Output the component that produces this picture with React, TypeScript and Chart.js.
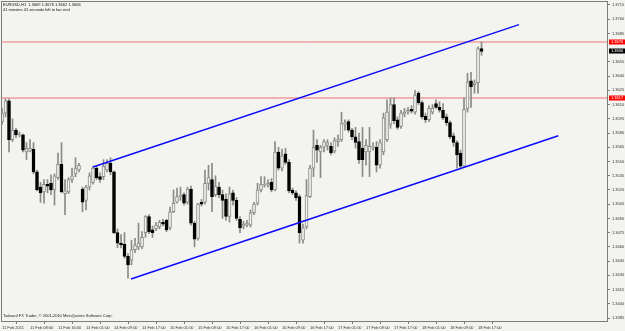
import { useEffect, useRef } from 'react';
import { Chart, registerables } from 'chart.js';

Chart.register(...registerables);

const OPEN = [
  1.3592, 1.3601, 1.3614, 1.3573, 1.3583, 1.3578, 1.3578, 1.3560, 1.3561, 1.3563,
  1.3539, 1.3523, 1.3518, 1.3526, 1.3527, 1.3520, 1.3533, 1.3547, 1.3516, 1.3518,
  1.3531, 1.3537, 1.3541, 1.3521, 1.3509, 1.3523, 1.3528, 1.3543, 1.3534, 1.3534,
  1.3541, 1.3548, 1.3539, 1.3475, 1.3464, 1.3463, 1.3450, 1.3446, 1.3457, 1.3460,
  1.3460, 1.3475, 1.3492, 1.3478, 1.3479, 1.3481, 1.3486, 1.3488, 1.3480, 1.3497,
  1.3507, 1.3513, 1.3515, 1.3507, 1.3521, 1.3485, 1.3469, 1.3507, 1.3507, 1.3527,
  1.3531, 1.3515, 1.3523, 1.3515, 1.3510, 1.3492, 1.3517, 1.3509, 1.3489, 1.3482,
  1.3483, 1.3483, 1.3496, 1.3506, 1.3520, 1.3525, 1.3525, 1.3528, 1.3520, 1.3560,
  1.3543, 1.3558, 1.3549, 1.3520, 1.3517, 1.3513, 1.3467, 1.3481, 1.3513, 1.3543,
  1.3567, 1.3560, 1.3565, 1.3567, 1.3566, 1.3561, 1.3571, 1.3573, 1.3589, 1.3592,
  1.3583, 1.3576, 1.3571, 1.3564, 1.3560, 1.3560, 1.3565, 1.3565, 1.3546, 1.3560,
  1.3573, 1.3589, 1.3610, 1.3594, 1.3587, 1.3600, 1.3602, 1.3605, 1.3602, 1.3622,
  1.3612, 1.3598, 1.3594, 1.3602, 1.3611, 1.3607, 1.3604, 1.3597, 1.3591, 1.3577,
  1.3570, 1.3559, 1.3545, 1.3606, 1.3635, 1.3631, 1.3633, 1.3669,
];
const HIGH = [
  1.3606, 1.3616, 1.3616, 1.3595, 1.3585, 1.3581, 1.3579, 1.3570, 1.3573, 1.3570,
  1.3541, 1.3528, 1.3531, 1.3531, 1.3536, 1.3537, 1.3559, 1.3570, 1.3531, 1.3533,
  1.3543, 1.3554, 1.3548, 1.3523, 1.3525, 1.3538, 1.3545, 1.3545, 1.3538, 1.3552,
  1.3552, 1.3554, 1.3540, 1.3479, 1.3473, 1.3475, 1.3453, 1.3467, 1.3469, 1.3485,
  1.3476, 1.3493, 1.3494, 1.3482, 1.3486, 1.3488, 1.3489, 1.3489, 1.3502, 1.3520,
  1.3522, 1.3523, 1.3517, 1.3523, 1.3524, 1.3487, 1.3506, 1.3510, 1.3541, 1.3546,
  1.3548, 1.3535, 1.3528, 1.3520, 1.3516, 1.3523, 1.3520, 1.3512, 1.3492, 1.3487,
  1.3488, 1.3499, 1.3507, 1.3527, 1.3534, 1.3534, 1.3531, 1.3532, 1.3571, 1.3565,
  1.3563, 1.3564, 1.3552, 1.3522, 1.3519, 1.3515, 1.3484, 1.3531, 1.3546, 1.3583,
  1.3573, 1.3567, 1.3573, 1.3573, 1.3570, 1.3575, 1.3578, 1.3602, 1.3594, 1.3594,
  1.3585, 1.3586, 1.3580, 1.3586, 1.3573, 1.3586, 1.3570, 1.3571, 1.3573, 1.3601,
  1.3615, 1.3617, 1.3617, 1.3597, 1.3604, 1.3606, 1.3607, 1.3609, 1.3625, 1.3624,
  1.3614, 1.3601, 1.3609, 1.3610, 1.3615, 1.3613, 1.3611, 1.3600, 1.3593, 1.3580,
  1.3572, 1.3562, 1.3617, 1.3643, 1.3644, 1.3636, 1.3671, 1.3676,
];
const LOW = [
  1.3589, 1.3597, 1.3560, 1.3571, 1.3575, 1.3576, 1.3560, 1.3552, 1.3560, 1.3537,
  1.3519, 1.3507, 1.3506, 1.3517, 1.3515, 1.3504, 1.3531, 1.3517, 1.3494, 1.3516,
  1.3528, 1.3534, 1.3539, 1.3497, 1.3499, 1.3520, 1.3526, 1.3531, 1.3528, 1.3531,
  1.3539, 1.3536, 1.3474, 1.3459, 1.3459, 1.3448, 1.3427, 1.3441, 1.3454, 1.3457,
  1.3458, 1.3470, 1.3474, 1.3470, 1.3477, 1.3479, 1.3482, 1.3476, 1.3478, 1.3496,
  1.3506, 1.3509, 1.3504, 1.3505, 1.3483, 1.3460, 1.3467, 1.3503, 1.3505, 1.3520,
  1.3497, 1.3513, 1.3512, 1.3490, 1.3488, 1.3486, 1.3504, 1.3488, 1.3475, 1.3479,
  1.3481, 1.3481, 1.3494, 1.3504, 1.3518, 1.3523, 1.3523, 1.3518, 1.3519, 1.3541,
  1.3540, 1.3547, 1.3517, 1.3515, 1.3509, 1.3464, 1.3464, 1.3479, 1.3512, 1.3534,
  1.3549, 1.3533, 1.3560, 1.3562, 1.3557, 1.3559, 1.3566, 1.3571, 1.3583, 1.3581,
  1.3573, 1.3564, 1.3548, 1.3534, 1.3546, 1.3534, 1.3562, 1.3539, 1.3543, 1.3557,
  1.3571, 1.3585, 1.3590, 1.3584, 1.3585, 1.3597, 1.3600, 1.3601, 1.3600, 1.3610,
  1.3595, 1.3591, 1.3592, 1.3600, 1.3606, 1.3602, 1.3594, 1.3588, 1.3574, 1.3566,
  1.3543, 1.3543, 1.3544, 1.3602, 1.3607, 1.3622, 1.3622, 1.3662,
];
const CLOSE = [
  1.3601, 1.3614, 1.3573, 1.3583, 1.3578, 1.3579, 1.3562, 1.3564, 1.3564, 1.3539,
  1.3520, 1.3517, 1.3526, 1.3524, 1.3520, 1.3535, 1.3547, 1.3518, 1.3519, 1.3531,
  1.3535, 1.3543, 1.3546, 1.3507, 1.3523, 1.3535, 1.3543, 1.3533, 1.3531, 1.3545,
  1.3548, 1.3539, 1.3475, 1.3464, 1.3462, 1.3450, 1.3441, 1.3457, 1.3462, 1.3464,
  1.3470, 1.3492, 1.3476, 1.3475, 1.3483, 1.3486, 1.3484, 1.3478, 1.3497, 1.3506,
  1.3513, 1.3514, 1.3506, 1.3521, 1.3485, 1.3468, 1.3505, 1.3505, 1.3527, 1.3533,
  1.3513, 1.3524, 1.3515, 1.3509, 1.3492, 1.3516, 1.3509, 1.3490, 1.3480, 1.3484,
  1.3485, 1.3496, 1.3505, 1.3520, 1.3526, 1.3526, 1.3527, 1.3520, 1.3560, 1.3543,
  1.3556, 1.3549, 1.3519, 1.3517, 1.3512, 1.3475, 1.3480, 1.3514, 1.3543, 1.3565,
  1.3562, 1.3565, 1.3571, 1.3570, 1.3559, 1.3572, 1.3573, 1.3590, 1.3591, 1.3583,
  1.3576, 1.3570, 1.3552, 1.3552, 1.3567, 1.3566, 1.3566, 1.3546, 1.3570, 1.3596,
  1.3602, 1.3610, 1.3593, 1.3586, 1.3601, 1.3602, 1.3604, 1.3603, 1.3620, 1.3612,
  1.3597, 1.3594, 1.3606, 1.3606, 1.3607, 1.3604, 1.3596, 1.3591, 1.3576, 1.3570,
  1.3557, 1.3545, 1.3605, 1.3634, 1.3629, 1.3633, 1.3669, 1.3666,
];

const X_TICK_BARS = [0, 8, 16, 24, 32, 40, 48, 56, 64, 72, 80, 88, 96, 104, 112, 120, 128, 136];
const X_LABELS = [
  '11 Feb 2011', '11 Feb 08:00', '11 Feb 16:00', '14 Feb 01:00', '14 Feb 09:00', '14 Feb 17:00',
  '15 Feb 01:00', '15 Feb 09:00', '15 Feb 17:00', '16 Feb 01:00', '16 Feb 09:00', '16 Feb 17:00',
  '17 Feb 01:00', '17 Feb 09:00', '17 Feb 17:00', '18 Feb 01:00', '18 Feb 09:00', '18 Feb 17:00',
];
const Y_TICKS = [
  1.3715, 1.37, 1.3685, 1.3655, 1.364, 1.3625, 1.361, 1.3595, 1.358, 1.3565, 1.355,
  1.3535, 1.352, 1.3505, 1.349, 1.3475, 1.346, 1.3445, 1.343, 1.3415, 1.34, 1.3385,
];

const UPPER_CHANNEL = [{ x: 26.0, y: 1.35442 }, { x: 147.7, y: 1.36943 }];
const LOWER_CHANNEL = [{ x: 36.86, y: 1.34261 }, { x: 158.94, y: 1.35772 }];
const ASK_LEVEL = 1.3676;
const SUPPORT_LEVEL = 1.3617;
const PRICE_TAGS = [
  { value: 1.3676, text: '1.3676', bg: '#ff0000' },
  { value: 1.3666, text: '1.3666', bg: '#000000' },
  { value: 1.3617, text: '1.3617', bg: '#ff0000' },
];
const HEADER_LINES = [
  'EURUSD,H1  1.3669 1.3676 1.3662 1.3666',
  '41 minutes 41 seconds left to bar end',
];
const FOOTER = 'Tadawul FX Trader, \u00a9 2001-2010 MetaQuotes Software Corp.';

const X_MIN = -0.286;
const X_MAX = 173.14;
const Y_MIN = 1.33808;
const Y_MAX = 1.37192;

const BG = '#f3f3ef';
const WICK = '#8a8a8a';
const FONT = 'Liberation Sans, Arial, sans-serif';

export default function App() {
  const ref = useRef<HTMLCanvasElement | null>(null);

  useEffect(() => {
    if (!ref.current) return;
    const bull = OPEN.map((o, i) => CLOSE[i] >= o);
    const bodies = OPEN.map((o, i) => ({ x: i, y: [o, CLOSE[i]] }));
    const wicks = OPEN.map((_, i) => ({ x: i, y: [LOW[i], HIGH[i]] }));

    const overlay = {
      id: 'overlay',
      beforeDraw(chart: any) {
        const ctx = chart.ctx;
        ctx.save();
        ctx.fillStyle = BG;
        ctx.fillRect(0, 0, chart.width, chart.height);
        ctx.restore();
      },
      afterDraw(chart: any) {
        const ctx = chart.ctx;
        const a = chart.chartArea;
        const ys = chart.scales.y;
        ctx.save();
        ctx.strokeStyle = '#7c7c7c';
        ctx.lineWidth = 1;
        ctx.strokeRect(Math.floor(a.left) + 0.5, Math.floor(a.top) + 0.5,
          Math.round(a.right - a.left) - 1, Math.round(a.bottom - a.top) - 1);
        ctx.font = `4px ${FONT}`;
        ctx.textBaseline = 'middle';
        ctx.textAlign = 'left';
        ctx.fillStyle = '#111';
        HEADER_LINES.forEach((t, k) => ctx.fillText(t, 3, 4.5 + k * 5));
        ctx.fillStyle = '#222';
        ctx.fillText(FOOTER, 3, 316);
        PRICE_TAGS.forEach((p) => {
          const y = ys.getPixelForValue(p.value);
          ctx.fillStyle = p.bg;
          ctx.fillRect(a.right + 1, Math.round(y) - 2.5, 16, 5);
          ctx.fillStyle = '#ffffff';
          ctx.fillText(p.text, a.right + 3, Math.round(y));
        });
        ctx.restore();
      },
    };

    const chart = new Chart(ref.current, {
      type: 'bar',
      data: {
        datasets: [
          {
            type: 'line', data: UPPER_CHANNEL, borderColor: '#0a0aff', borderWidth: 1.5,
            pointRadius: 0, order: 0,
          } as any,
          {
            type: 'line', data: LOWER_CHANNEL, borderColor: '#0a0aff', borderWidth: 1.5,
            pointRadius: 0, order: 0,
          } as any,
          {
            type: 'bar', data: bodies as any, barThickness: 3, grouped: false,
            backgroundColor: bull.map((b) => (b ? BG : '#000000')),
            borderColor: bull.map((b) => (b ? WICK : '#000000')),
            borderWidth: 1, borderSkipped: false, order: 1,
          } as any,
          {
            type: 'bar', data: wicks as any, barThickness: 1, grouped: false,
            backgroundColor: WICK, borderWidth: 0, order: 2,
          } as any,
          {
            type: 'line', data: [{ x: X_MIN, y: ASK_LEVEL }, { x: X_MAX, y: ASK_LEVEL }],
            borderColor: '#f07a7a', borderWidth: 1, pointRadius: 0, order: 3,
          } as any,
          {
            type: 'line', data: [{ x: X_MIN, y: SUPPORT_LEVEL }, { x: X_MAX, y: SUPPORT_LEVEL }],
            borderColor: '#f2b0b0', borderWidth: 2, pointRadius: 0, order: 3,
          } as any,
        ],
      },
      options: {
        animation: false,
        responsive: false,
        devicePixelRatio: 1,
        layout: { padding: { top: 1, left: 1, right: 0, bottom: 0 } },
        plugins: { legend: { display: false }, tooltip: { enabled: false } },
        scales: {
          x: {
            type: 'linear', min: X_MIN, max: X_MAX, offset: false,
            grid: { display: true, drawOnChartArea: false, drawTicks: true, tickLength: 2, color: '#7c7c7c' },
            border: { display: false },
            ticks: {
              autoSkip: false, maxRotation: 0, minRotation: 0, align: 'start', padding: 1,
              font: { size: 4, family: FONT }, color: '#333',
              callback: (_v: any, idx: number) => X_LABELS[idx] ?? '',
            },
            afterBuildTicks: (s: any) => { s.ticks = X_TICK_BARS.map((v) => ({ value: v })); },
            afterFit: (s: any) => { s.height = 9; s.paddingLeft = 0; s.paddingRight = 0; },
          } as any,
          y: {
            type: 'linear', position: 'right', min: Y_MIN, max: Y_MAX,
            grid: { display: true, drawOnChartArea: false, drawTicks: true, tickLength: 2, color: '#7c7c7c' },
            border: { display: false },
            ticks: {
              padding: 2, font: { size: 4, family: FONT }, color: '#333',
              callback: (v: any) => Number(v).toFixed(4),
            },
            afterBuildTicks: (s: any) => { s.ticks = Y_TICKS.map((v) => ({ value: v })); },
            afterFit: (s: any) => { s.width = 17; s.paddingTop = 0; s.paddingBottom = 0; },
          } as any,
        },
      },
      plugins: [overlay],
    });
    return () => chart.destroy();
  }, []);

  return (
    <div style={{ position: 'fixed', left: 0, top: 0, width: 625, height: 331 }}>
      <canvas ref={ref} width={625} height={331} style={{ display: 'block' }} />
    </div>
  );
}
